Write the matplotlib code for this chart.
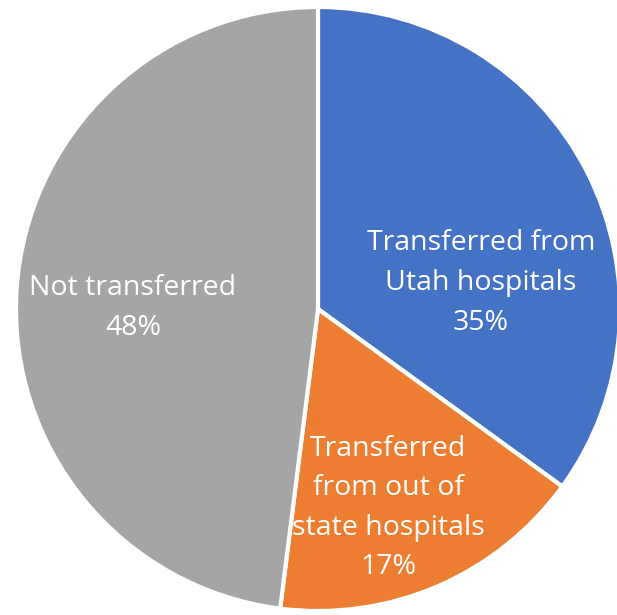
import matplotlib.pyplot as plt

# share of patients by transfer status
labels = ['Transferred from\nUtah hospitals', 'Transferred\nfrom out of\nstate hospitals', 'Not transferred']
shares = [35, 17, 48]
colors = ['#4472C4', '#ED7D31', '#A5A5A5']

W, H = 617, 615
fig = plt.figure(figsize=(W / 100, H / 100), dpi=100)
ax = fig.add_axes([0, 0, 1, 1])

cx, cy = 318, H - 309
ax.pie(shares, colors=colors, startangle=90, counterclock=False,
       radius=302, center=(cx, cy),
       wedgeprops=dict(edgecolor='white', linewidth=3))
ax.set_xlim(0, W)
ax.set_ylim(0, H)
ax.set_aspect('equal')
ax.axis('off')

# label positions in pixels (x, y from top), as in the reference
label_pos = [(481, 283), (388, 508), (133, 308)]
for lab, val, (px, py) in zip(labels, shares, label_pos):
    ax.text(px, H - py, f'{lab}\n{val}%', ha='center', va='center',
            color='white', fontsize=20.5, family='Open Sans', linespacing=1.55)

fig.savefig('out.png', dpi=100)
